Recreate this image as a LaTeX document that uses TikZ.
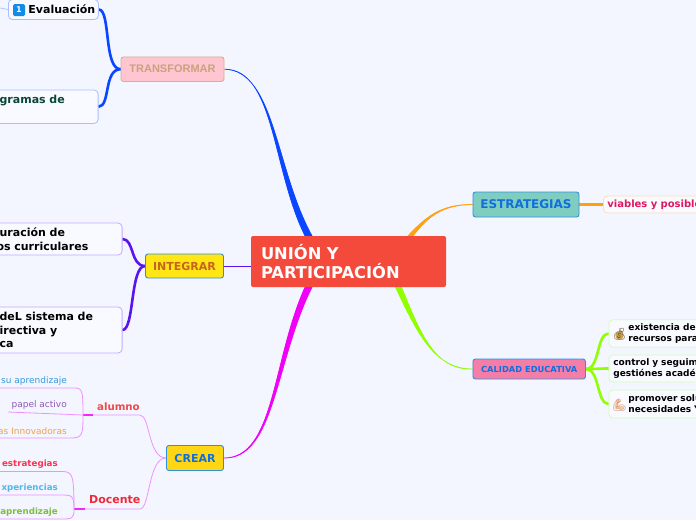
\documentclass[tikz,border=0pt]{standalone}
\usepackage{fontspec}
\setmainfont{DejaVu Sans}
\newfontfamily\arialfont{Liberation Sans}
\newfontfamily\emojifont{Noto Emoji}
\usetikzlibrary{backgrounds,calc}
\definecolor{fondo}{HTML}{F3F6FF}
\definecolor{rojocentro}{HTML}{F44A3C}
\definecolor{azulramal}{HTML}{0A46FF}
\definecolor{moradoramal}{HTML}{5A14F0}
\definecolor{magentaramal}{HTML}{F000F5}
\definecolor{naranjaramal}{HTML}{FFA010}
\definecolor{verderamal}{HTML}{90FF00}
\definecolor{rosalinea}{HTML}{F090FF}
\definecolor{bordeazul}{HTML}{2F8FE0}
\definecolor{textoazul}{HTML}{0F6FDC}
\definecolor{hojaazul}{HTML}{A8C0FF}
\definecolor{hojamorada}{HTML}{C4A8FF}
\definecolor{hojaverde}{HTML}{CFFFB4}
\definecolor{hojanaranja}{HTML}{FFDDB0}
\definecolor{tonobolsa}{HTML}{C8A050}
\definecolor{tonobrazo}{HTML}{F0C8A8}
\tikzset{
	tema/.style={draw=bordeazul,line width=0.9pt,rounded corners=2.5pt,inner sep=0pt,font=\bfseries},
	hoja/.style={draw=#1,fill=white!45!fondo,line width=0.8pt,rounded corners=4pt,inner ysep=0pt,align=left,font=\bfseries},
	etiqueta/.style={inner sep=0pt,font=\fontsize{9}{11}\selectfont},
	rama/.style={draw=#1,line width=2.6pt,line cap=round},
	linea/.style={draw=rosalinea,line width=0.8pt}
}
% ramal que engorda hacia el centro
\newcommand{\ramal}[6]{
	\filldraw[#1,line width=0.7pt] (#2) .. controls (#3) and (#4) .. ($(#5)+(-#6,0)$) -- ($(#5)+(#6,0)$) .. controls ($(#4)+(#6,0)$) and ($(#3)+(0,0.4*#6)$) .. (#2) -- cycle;
}
\begin{document}
\begin{tikzpicture}[x=1pt,y=-1pt]
	\useasboundingbox (0,0) rectangle (696,520);
	% centro
	\node[fill=rojocentro,rounded corners=2pt,minimum width=195pt,minimum height=51pt,text width=175pt,inner sep=0pt,align=left,text=white,font=\fontsize{16.3}{18.5}\selectfont\bfseries] (centro) at (348.5,261.5) {UNIÓN Y\\PARTICIPACIÓN};
	% temas
	\node[tema,draw={rgb,255:red,216;green,176;blue,144},fill={rgb,255:red,255;green,197;blue,208},minimum width=103pt,minimum height=24.5pt,text={rgb,255:red,201;green,162;blue,126},font=\arialfont\fontsize{11}{13}\selectfont\bfseries] (transformar) at (172.5,69.2) {TRANSFORMAR};
	\node[tema,fill={rgb,255:red,255;green,230;blue,20},minimum width=78pt,minimum height=24pt,text={rgb,255:red,200;green,100;blue,30},font=\fontsize{11}{13}\selectfont\bfseries] (integrar) at (184.5,266) {INTEGRAR};
	\node[tema,fill={rgb,255:red,255;green,214;blue,20},minimum width=57pt,minimum height=25pt,text=textoazul,font=\fontsize{11}{13}\selectfont\bfseries] (crear) at (195,458) {CREAR};
	\node[tema,fill={rgb,255:red,127;green,205;blue,192},minimum width=106pt,minimum height=25pt,text=textoazul,font=\fontsize{12}{14}\selectfont\bfseries] (estrategias) at (526,204.5) {ESTRATEGIAS};
	\node[tema,fill={rgb,255:red,245;green,126;blue,168},minimum width=112.5pt,minimum height=20pt,text=textoazul,font=\fontsize{8.3}{10}\selectfont\bfseries] (calidad) at (529.2,369) {CALIDAD EDUCATIVA};
	% hojas de arriba e izquierda
	\node[hoja=hojaazul,minimum height=20pt,anchor=west,text width=90pt,inner xsep=0pt,font=\fontsize{11}{13}\selectfont\bfseries] (evaluacion) at (8,9.5) {\hspace*{20pt}Evaluación};
	\node[fill={rgb,255:red,20;green,140;blue,230},rounded corners=1.5pt,minimum size=12pt,inner sep=0pt,text=white,font=\fontsize{8}{9}\selectfont\bfseries] (icono) at (19,10) {1};
	\node[hoja=hojaazul,minimum height=33.5pt,anchor=east,text width=78.5pt,inner xsep=20pt,text={rgb,255:red,10;green,70;blue,58},font=\fontsize{11}{14}\selectfont\bfseries] (programas) at (98.5,106.7) {gramas de\\~};
	\node[hoja=hojamorada,minimum height=32pt,anchor=east,text width=102.5pt,inner xsep=20pt,font=\fontsize{11}{13.5}\selectfont\bfseries] (configuracion) at (122.5,239) {uración de\\\hspace*{-3pt}os curriculares};
	\node[hoja=hojamorada,minimum height=46pt,anchor=east,text width=102.5pt,inner xsep=20pt,font=\fontsize{11}{13.5}\selectfont\bfseries] (sistema) at (122.5,330) {deL sistema de\\irectiva y\\ca};
	% hojas de la derecha
	\node[hoja=hojanaranja,minimum height=17pt,anchor=west,text width=100pt,inner xsep=4pt,text={rgb,255:red,224;green,24;blue,94},font=\fontsize{10}{12}\selectfont\bfseries] (viables) at (603,204.5) {viables y posible};
	\node[hoja=hojaverde,minimum height=27.5pt,anchor=west,text width=78pt,inner xsep=19.5pt,font=\fontsize{9}{11}\selectfont\bfseries] (recursos) at (608.5,333.5) {existencia de\\recursos para};
	\node[hoja=hojaverde,minimum height=27pt,anchor=west,text width=92pt,inner xsep=4.5pt,font=\fontsize{9}{11}\selectfont\bfseries] (gestiones) at (608.5,368.5) {control y seguim\\gestiónes académ};
	\node[hoja=hojaverde,minimum height=28pt,anchor=west,text width=78pt,inner xsep=19.5pt,font=\fontsize{9}{11}\selectfont\bfseries] (necesidades) at (608.5,404) {promover solu\\necesidades Y};
	\fill[tonobolsa] (619.5,335.5) circle (4.2);
	\draw[tonobrazo,line width=3pt,line cap=round,line join=round] (618,400) -- (616,407.5) -- (623,407.5);
	\node[inner sep=0pt,text={rgb,255:red,110;green,85;blue,40},font=\emojifont\fontsize{12}{12}\selectfont] (bolsa) at (619.5,334) {💰};
	\node[inner sep=0pt,text={rgb,255:red,205;green,140;blue,100},font=\emojifont\fontsize{12}{12}\selectfont] (brazo) at (619.5,405) {💪};
	% alumno y docente
	\node[inner sep=0pt,anchor=west,text={rgb,255:red,240;green,72;blue,72},font=\fontsize{10.2}{13}\selectfont\bfseries] (alumno) at (97,406.5) {alumno};
	\node[inner sep=0pt,anchor=west,text={rgb,255:red,240;green,40;blue,56},font=\fontsize{11}{14}\selectfont\bfseries] (docente) at (89,500) {Docente};
	\foreach \nombre/\py/\tinte/\lab in {aprendizajeA/381/3A9AD9/su aprendizaje, papel/405.5/8E5AB5/papel activo, innovadoras/431.5/F0A050/as Innovadoras} {
		\definecolor{tinte}{HTML}{\tinte}
		\node[etiqueta,anchor=east,text=tinte] (\nombre) at (67,\py) {\lab};
	}
	\foreach \nombre/\py/\tinte/\lab in {estrategiasB/464.5/FF3050/estrategias, experiencias/488.5/50B8E8/xperiencias, aprendizajeB/512.5/80BC40/aprendizaje} {
		\definecolor{tinte}{HTML}{\tinte}
		\node[etiqueta,anchor=east,text=tinte,font=\fontsize{8.7}{11}\selectfont\bfseries] (\nombre) at (58,\py) {\lab};
	}
	\coordinate (nudoA) at (83,415);
	\coordinate (nudoB) at (74,509);
	\begin{scope}[on background layer]
		\fill[fondo] (0,0) rectangle (696,520);
		% ramales del centro
		\ramal{azulramal}{transformar.east}{275,69}{272,170}{$(centro.north)+(-40,0)$}{3.5}
		\ramal{magentaramal}{crear.east}{275,458}{272,360}{$(centro.south)+(-40,0)$}{3.5}
		\ramal{naranjaramal}{estrategias.west}{440,204}{425,218}{$(centro.north)+(62,0)$}{2.5}
		\ramal{verderamal}{calidad.west}{435,369}{418,335}{$(centro.south)+(50,0)$}{3}
		\draw[moradoramal,line width=1pt] (integrar.east) -- (centro.west |- integrar.east);
		% ramas de los temas
		\foreach \hoja in {evaluacion,programas}
			\draw[rama=azulramal] (transformar.west) .. controls +(-17,0) and ($(\hoja.east)+(12,0)$) .. (\hoja.east);
		\foreach \hoja in {configuracion,sistema}
			\draw[rama=moradoramal] (integrar.west) .. controls +(-15,0) and ($(\hoja.east)+(12,0)$) .. (\hoja.east);
		\foreach \hoja in {recursos,gestiones,necesidades}
			\draw[rama=verderamal] (calidad.east) .. controls +(14,0) and ($(\hoja.west)+(-12,0)$) .. (\hoja.west);
		\draw[rama=naranjaramal] (estrategias.east) -- (viables.west);
		\draw[hojaazul,line width=0.7pt] (0,8) -- (evaluacion.west);
		% lineas rosas de abajo
		\foreach \nudo/\lateral/\py in {nudoA/93/415,nudoB/85/509} {
			\draw[linea] (crear.west) .. controls +(-18,0) and (150,\py) .. (140,\py) -- (\lateral,\py);
			\draw[magentaramal!70!rosalinea,line width=1.6pt] (\nudo) -- (\lateral,\py);
		}
		\foreach \py in {388,438}
			\draw[linea] (nudoA) .. controls (83,\py-2) and (82,\py) .. (70,\py) -- (0,\py);
		\draw[linea] (nudoA) -- (8,412);
		\foreach \py in {471.5,495,519}
			\draw[linea] (nudoB) .. controls (74,\py) and (72,\py) .. (60,\py) -- (0,\py);
	\end{scope}
\end{tikzpicture}
\end{document}
